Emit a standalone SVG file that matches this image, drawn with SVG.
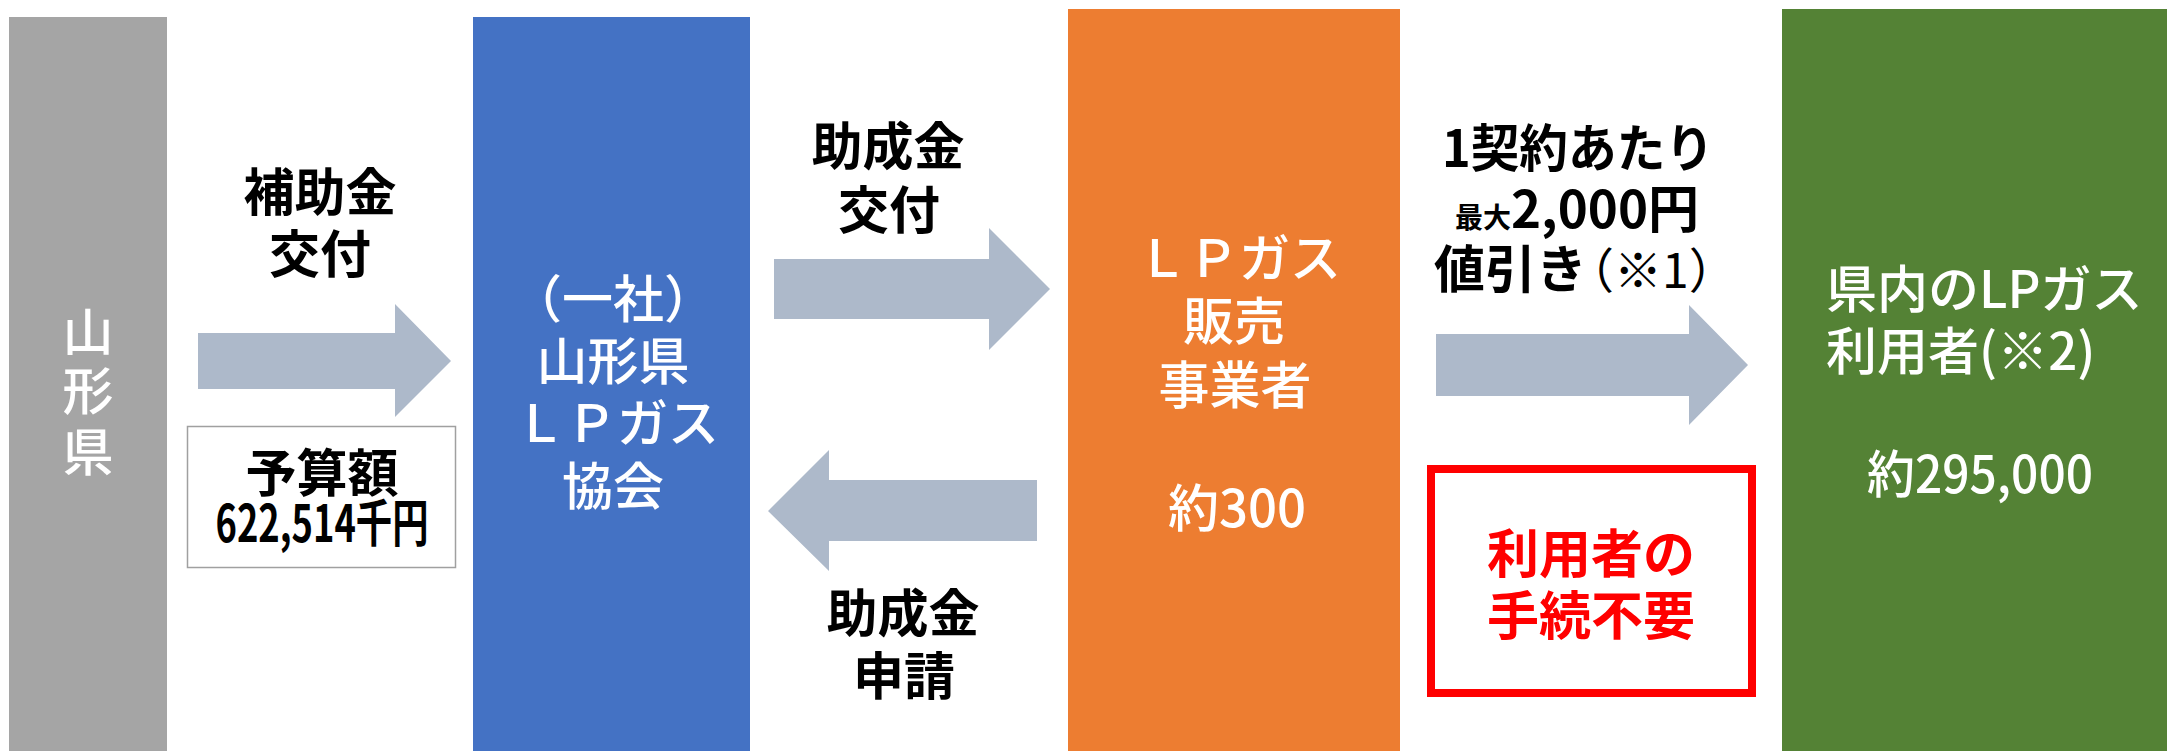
<svg xmlns="http://www.w3.org/2000/svg" width="2167" height="751" viewBox="0 0 2167 751">
<style>
text{font-family:"Noto Sans CJK JP","Noto Sans",sans-serif;}
.w{fill:#FFFFFF;font-size:51px;font-weight:500;text-anchor:middle;}
.b{fill:#000000;font-size:51px;font-weight:bold;text-anchor:middle;}
.r{fill:#FF0000;font-size:52px;font-weight:bold;text-anchor:middle;}
.arrow{fill:#ADB9CA;}
</style>
<rect width="2167" height="751" fill="#FFFFFF"/>

<g id="yamagata">
<rect x="9" y="17" width="158" height="734" fill="#A5A5A5"/>
<text class="w" font-size="50"><tspan x="88" y="351">山</tspan><tspan x="88" y="410">形</tspan><tspan x="88" y="471">県</tspan></text>
</g>

<g id="lpgas-kyokai">
<rect x="473" y="17" width="277" height="734" fill="#4472C4"/>
<text class="w"><tspan x="613" y="318">（一社）</tspan><tspan x="613" y="380">山形県</tspan><tspan x="617" y="442">ＬＰガス</tspan><tspan x="613" y="505">協会</tspan></text>
</g>

<g id="hanbai-jigyosha">
<rect x="1068" y="9" width="332" height="742" fill="#ED7D31"/>
<text class="w"><tspan x="1239" y="277">ＬＰガス</tspan><tspan x="1234" y="340">販売</tspan><tspan x="1235" y="404">事業者</tspan><tspan x="1237" y="527">約300</tspan></text>
</g>

<g id="riyosha">
<rect x="1782" y="9" width="385" height="742" fill="#548235"/>
<text class="w" style="text-anchor:start"><tspan x="1826" y="308">県内のLPガス</tspan><tspan x="1826" y="370">利用者(※2)</tspan></text>
<text class="w" x="1980" y="493" textLength="226" lengthAdjust="spacingAndGlyphs">約295,000</text>
</g>

<g id="budget">
<rect x="187.5" y="426.5" width="268" height="141" fill="#FFFFFF" stroke="#A0A0A0" stroke-width="1.5"/>
<text class="b" x="322" y="492" font-size="40">予算額</text>
<text class="b" x="322" y="542" font-size="40" font-weight="500" textLength="213" lengthAdjust="spacingAndGlyphs">622,514千円</text>
</g>

<g id="tetsuzuki-fuyo">
<rect x="1431" y="469" width="321" height="224" fill="none" stroke="#FF0000" stroke-width="8"/>
<text class="r"><tspan x="1591" y="573">利用者の</tspan><tspan x="1591" y="635">手続不要</tspan></text>
</g>

<g id="connectors">
<polygon class="arrow" points="198,333 395,333 395,304 451,361 395,417 395,389 198,389"/>
<polygon class="arrow" points="774,259 989,259 989,228 1050,289 989,350 989,319 774,319"/>
<polygon class="arrow" points="1037,480 829,480 829,450 768,511 829,571 829,541 1037,541"/>
<polygon class="arrow" points="1436,334 1689,334 1689,305 1748,365 1689,425 1689,396 1436,396"/>
</g>

<g id="label-hojokin">
<text class="b"><tspan x="320" y="211">補助金</tspan><tspan x="320" y="273">交付</tspan></text>
</g>

<g id="label-josei-kofu">
<text class="b"><tspan x="888" y="165">助成金</tspan><tspan x="889" y="229">交付</tspan></text>
</g>

<g id="label-josei-shinsei">
<text class="b"><tspan x="903" y="632">助成金</tspan><tspan x="904" y="695">申請</tspan></text>
</g>

<g id="label-nebiki">
<text class="b" x="1578" y="167" textLength="272" lengthAdjust="spacingAndGlyphs">1契約あたり</text>
<text class="b" x="1577" y="228"><tspan font-size="28">最大</tspan><tspan>2,000円</tspan></text>
<text class="b" x="1434" y="288" style="text-anchor:start">値引き<tspan font-weight="normal" font-size="48" dx="-21">（※1）</tspan></text>
</g>
</svg>
